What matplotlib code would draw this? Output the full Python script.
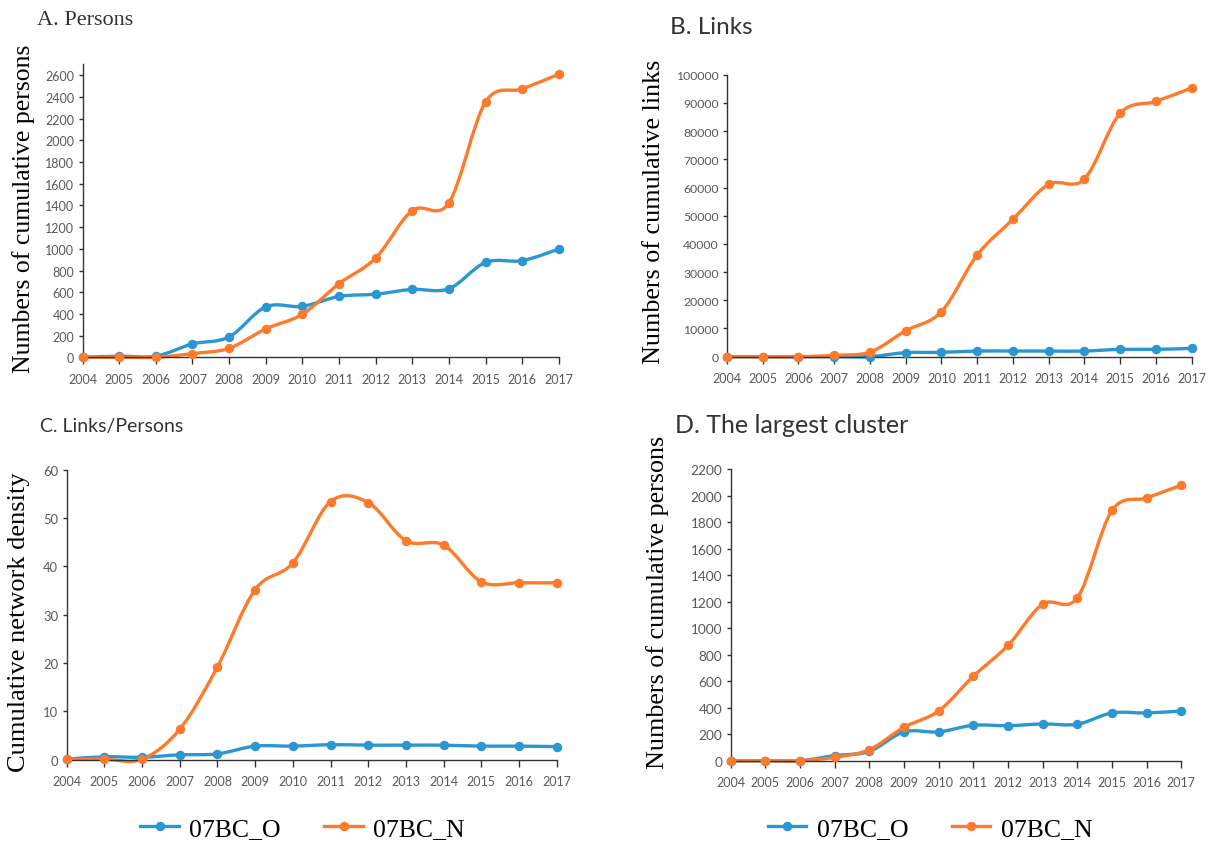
import numpy as np
import matplotlib
matplotlib.use('Agg')
import matplotlib.pyplot as plt
from matplotlib.path import Path
from matplotlib.patches import PathPatch
from matplotlib.lines import Line2D

years = list(range(2004, 2018))

# A. persons
persons_o = [0, 10, 10, 123, 188, 465, 470, 561, 582, 626, 632, 875, 891, 998]
persons_n = [0, 0, 0, 34, 83, 262, 397, 678, 915, 1353, 1424, 2354, 2474, 2610]
# B. links
links_o = [0, 0, 0, 0, 50, 1420, 1540, 2000, 2000, 2000, 2000, 2600, 2600, 2950]
links_n = [0, 0, 0, 470, 1650, 9200, 15960, 36050, 48700, 61100, 63000, 86300, 90540, 95270]
# C. links / persons
density_o = [0.1, 0.6, 0.5, 1.0, 1.2, 2.8, 2.8, 3.1, 3.0, 3.0, 3.0, 2.8, 2.8, 2.7]
density_n = [0.1, 0.1, 0.1, 6.3, 19.2, 35.2, 40.7, 53.4, 53.2, 45.3, 44.4, 36.8, 36.6, 36.6]
# D. largest cluster
cluster_o = [0, 0, 0, 38, 70, 217, 217, 267, 264, 277, 275, 360, 360, 375]
cluster_n = [0, 0, 0, 25, 83, 252, 375, 637, 869, 1181, 1229, 1887, 1982, 2078]

series_names = ['07BC_O', '07BC_N']

BLUE = '#2A96D2'
ORANGE = '#FF7A2A'
GREY = '#595959'
SERIF = 'Liberation Serif'
SANS = 'Lato'


def smooth_path(x, y):
    # excel-style smoothed line: catmull-rom turned into cubic beziers
    pts = np.column_stack([x, y]).astype(float)
    n = len(pts)
    verts, codes = [pts[0]], [Path.MOVETO]
    for i in range(n - 1):
        p0, p1 = pts[max(i - 1, 0)], pts[i]
        p2, p3 = pts[i + 1], pts[min(i + 2, n - 1)]
        verts += [p1 + (p2 - p0) / 6, p2 - (p3 - p1) / 6, p2]
        codes += [Path.CURVE4] * 3
    return Path(verts, codes)


def panel(rect, o, n, ymax, ystep, ytop, ysize):
    ax = fig.add_axes(rect)
    for vals, c in ((o, BLUE), (n, ORANGE)):
        ax.add_patch(PathPatch(smooth_path(years, vals), fc='none', ec=c,
                               lw=2.4, clip_on=False, zorder=2))
        ax.plot(years, vals, 'o', color=c, ms=5.8, clip_on=False, zorder=3)
    ax.set_xlim(2004, 2017)
    ax.set_ylim(0, ytop)
    ax.set_xticks(years)
    ax.set_yticks(np.arange(0, ymax + 1, ystep))
    for s in ('top', 'right'):
        ax.spines[s].set_visible(False)
    for s in ('left', 'bottom'):
        ax.spines[s].set_color('#333333')
        ax.spines[s].set_linewidth(1.0)
    ax.tick_params(axis='x', direction='out', length=5, width=1, color='#333333',
                   labelsize=9, labelcolor=GREY, pad=6)
    ax.tick_params(axis='y', direction='out', length=3, width=1, color='#333333',
                   labelsize=ysize, labelcolor=GREY, pad=3)
    for lab in ax.get_xticklabels() + ax.get_yticklabels():
        lab.set_fontfamily(SANS)
    return ax


fig = plt.figure(figsize=(12.1, 8.45), dpi=100)

axA = panel([0.0682, 0.576, 0.3936, 0.3465], persons_o, persons_n, 2600, 200, 2700, 9)
axB = panel([0.6008, 0.5767, 0.384, 0.3337], links_o, links_n, 100000, 10000, 100000, 8.8)
axC = panel([0.0551, 0.0998, 0.405, 0.3432], density_o, density_n, 60, 10, 60, 9.4)
axD = panel([0.6038, 0.0986, 0.3725, 0.3452], cluster_o, cluster_n, 2200, 200, 2200, 9.8)

# panel titles
fig.text(0.0306, 0.9755, 'A. Persons', family=SERIF, fontsize=16, color='#333333', va='center')
fig.text(0.5537, 0.967, 'B. Links', family=SANS, fontsize=17.5, color='#333333', va='center')
fig.text(0.033, 0.4947, 'C. Links/Persons', family=SANS, fontsize=14, color='#333333', va='center')
fig.text(0.558, 0.4959, 'D. The largest cluster', family=SANS, fontsize=18, color='#333333', va='center')

# axis labels
fig.text(0.0198, 0.7527, 'Numbers of cumulative persons', family=SERIF, fontsize=18.5,
         rotation=90, ha='center', va='center')
fig.text(0.5405, 0.749, 'Numbers of cumulative links', family=SERIF, fontsize=18.8,
         rotation=90, ha='center', va='center')
fig.text(0.0157, 0.264, 'Cumulative network density', family=SERIF, fontsize=19,
         rotation=90, ha='center', va='center')
fig.text(0.5438, 0.2876, 'Numbers of cumulative persons', family=SERIF, fontsize=18.8,
         rotation=90, ha='center', va='center')

handles = [Line2D([], [], color=c, lw=2.4, marker='o', ms=5.8) for c in (BLUE, ORANGE)]
for cx in (0.25, 0.7686):
    fig.legend(handles, series_names, loc='center', bbox_to_anchor=(cx, 0.018),
               ncol=2, frameon=False, handlelength=1.5, handletextpad=0.4,
               columnspacing=1.7, prop={'family': SERIF, 'size': 18.5})

fig.savefig('out.png', dpi=100)
